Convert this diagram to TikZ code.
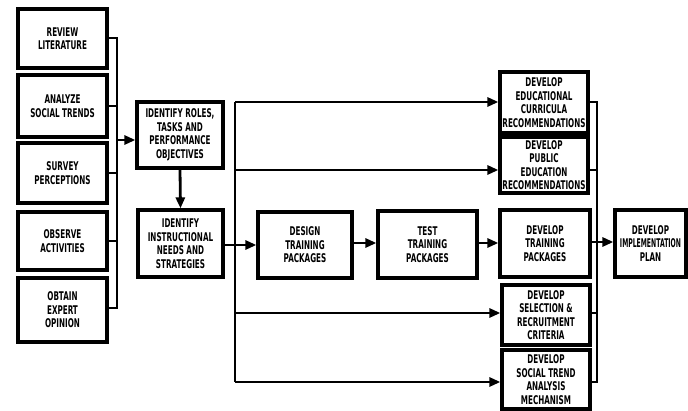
\documentclass[tikz,border=0pt]{standalone}
\usepackage{fontspec}
\setmainfont{DejaVu Sans}[FakeStretch=0.6]
\usetikzlibrary{arrows.meta}
\begin{document}
\begin{tikzpicture}[x=1pt,y=-1pt,
  box/.style={draw, line width=3.2pt, align=center, inner sep=1pt,
    font=\fontsize{12}{13.5}\selectfont\bfseries},
  conn/.style={line width=2.8pt},
  arr/.style={line width=2.8pt, -{Triangle[length=11pt,width=9pt]}}]
\useasboundingbox (0,0) rectangle (688,411);
% left column
\node[box, minimum width=89pt, minimum height=59pt] (rev) at (62.5,38.5) {REVIEW\\LITERATURE};
\node[box, minimum width=89pt, minimum height=62pt] (ana) at (62.5,106) {ANALYZE\\SOCIAL TRENDS};
\node[box, minimum width=89pt, minimum height=60pt] (sur) at (62.5,173) {SURVEY\\PERCEPTIONS};
\node[box, minimum width=89pt, minimum height=58pt] (obs) at (62.5,241) {OBSERVE\\ACTIVITIES};
\node[box, minimum width=89pt, minimum height=64pt] (obt) at (62.5,310) {OBTAIN\\EXPERT\\OPINION};
% identify
\node[box, minimum width=86pt, minimum height=66pt] (rol) at (180,135) {IDENTIFY ROLES,\\TASKS AND\\PERFORMANCE\\OBJECTIVES};
\node[box, minimum width=85pt, minimum height=67pt] (ins) at (180.5,243.5) {IDENTIFY\\INSTRUCTIONAL\\NEEDS AND\\STRATEGIES};
% middle
\node[box, minimum width=94pt, minimum height=66pt] (des) at (305,245) {DESIGN\\TRAINING\\PACKAGES};
\node[box, minimum width=99pt, minimum height=67pt] (tst) at (427.5,244.5) {TEST\\TRAINING\\PACKAGES};
% right column
\node[box, minimum width=88pt, minimum height=61pt] (edu) at (544,102.5) {DEVELOP\\EDUCATIONAL\\CURRICULA\\RECOMMENDATIONS};
\node[box, minimum width=88pt, minimum height=56pt] (pub) at (544,165) {DEVELOP\\PUBLIC\\EDUCATION\\RECOMMENDATIONS};
\node[box, minimum width=90pt, minimum height=67pt] (dtp) at (545,243.5) {DEVELOP\\TRAINING\\PACKAGES};
\node[box, minimum width=88pt, minimum height=60pt] (sel) at (546,315) {DEVELOP\\SELECTION \&\\RECRUITMENT\\CRITERIA};
\node[box, minimum width=88pt, minimum height=59pt] (soc) at (546,379.5) {DEVELOP\\SOCIAL TREND\\ANALYSIS\\MECHANISM};
\node[box, minimum width=71pt, minimum height=67pt] (pln) at (650.5,243.5) {DEVELOP\\\scalebox{0.85}[1]{IMPLEMENTATION}\\PLAN};
% left bus
\coordinate (lbt) at (117,38);
\coordinate (lbb) at (117,308);
\coordinate (lbo) at (117,140);
\draw[conn] (rev.east |- lbt) -- (lbt) -- (lbb) -- (obt.east |- lbb);
\draw[conn] (ana.east) -- (ana.east -| lbt);
\draw[conn] (sur.east) -- (sur.east -| lbt);
\draw[conn] (obs.east) -- (obs.east -| lbt);
\draw[arr] (lbo) -- (rol.west |- lbo);
\draw[arr] (rol.south) -- (ins.north);
% middle bus
\coordinate (m1) at (235,102);
\coordinate (m2) at (235,170);
\coordinate (m4) at (235,313);
\coordinate (m5) at (235,382);
\draw[conn] (m1) -- (m5);
\draw[arr] (m1) -- (edu.west |- m1);
\draw[arr] (m2) -- (pub.west |- m2);
\draw[arr] (m4) -- (sel.west |- m4);
\draw[arr] (m5) -- (soc.west |- m5);
\coordinate (ia) at (ins.east |- 0,245);
\draw[arr] (ia) -- (des.west |- ia);
\draw[arr] (des.east |- 0,243) -- (tst.west |- 0,243);
\draw[arr] (tst.east |- 0,243) -- (dtp.west |- 0,243);
% right bus
\coordinate (r1) at (597,102);
\coordinate (r2) at (597,170);
\coordinate (r3) at (597,242);
\coordinate (r4) at (597,313);
\coordinate (r5) at (597,382);
\draw[conn] (edu.east |- r1) -- (r1) -- (r5) -- (soc.east |- r5);
\draw[conn] (pub.east |- r2) -- (r2);
\draw[conn] (sel.east |- r4) -- (r4);
\draw[conn] (dtp.east |- r3) -- (r3);
\draw[arr] (r3) -- (pln.west |- r3);
\end{tikzpicture}
\end{document}
